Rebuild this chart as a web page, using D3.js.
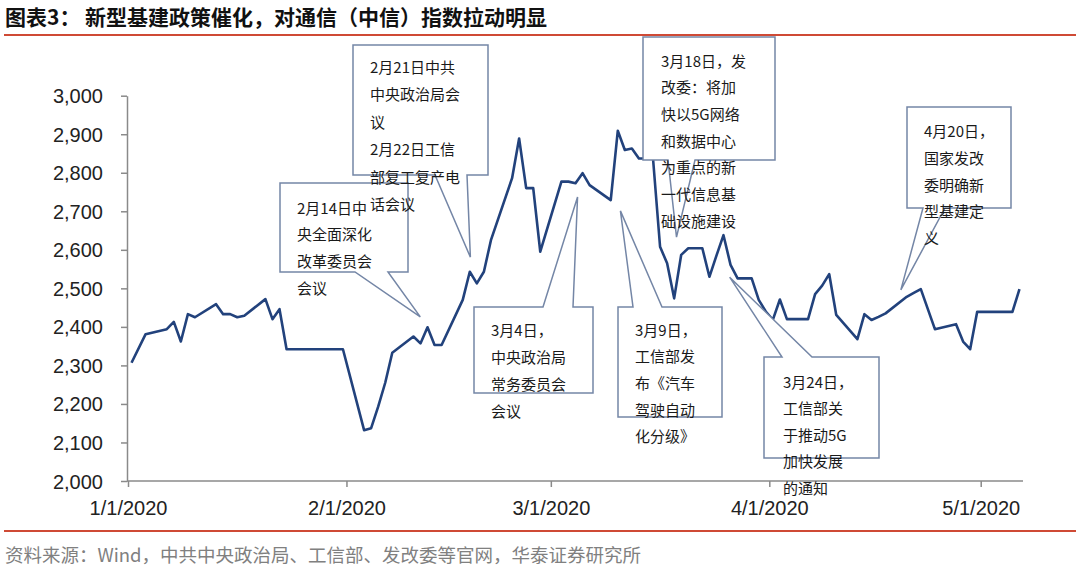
<!DOCTYPE html>
<html><head><meta charset="utf-8">
<script src="https://cdn.jsdelivr.net/npm/d3@7"></script>
<style>body{margin:0;background:#fff;} svg{display:block;}</style>
</head><body>
<svg id="c" width="1080" height="579"></svg>
<script>
// ---------- data ----------
const titleLead = "图表3：";
const titleMain = "新型基建政策催化，对通信（中信）指数拉动明显";
const sourceText = "资料来源：Wind，中共中央政治局、工信部、发改委等官网，华泰证券研究所";

const dates = ["2020-01-01","2020-01-03","2020-01-06","2020-01-07","2020-01-08","2020-01-09","2020-01-10",
"2020-01-13","2020-01-14","2020-01-15","2020-01-16","2020-01-17","2020-01-20","2020-01-21","2020-01-22","2020-01-23",
"2020-01-31","2020-02-03","2020-02-04","2020-02-05","2020-02-06","2020-02-07","2020-02-10","2020-02-11","2020-02-12",
"2020-02-13","2020-02-14","2020-02-17","2020-02-18","2020-02-19","2020-02-20","2020-02-21","2020-02-24","2020-02-25",
"2020-02-26","2020-02-27","2020-02-28","2020-03-02","2020-03-03","2020-03-04","2020-03-05","2020-03-06","2020-03-09",
"2020-03-10","2020-03-11","2020-03-12","2020-03-13","2020-03-15","2020-03-16","2020-03-17","2020-03-18","2020-03-19",
"2020-03-20","2020-03-22","2020-03-23","2020-03-24","2020-03-25","2020-03-26","2020-03-27","2020-03-29","2020-03-30",
"2020-03-31","2020-04-01","2020-04-02","2020-04-03","2020-04-06","2020-04-07","2020-04-08","2020-04-09","2020-04-10",
"2020-04-13","2020-04-14","2020-04-15","2020-04-16","2020-04-17","2020-04-20","2020-04-21","2020-04-22","2020-04-23",
"2020-04-24","2020-04-27","2020-04-28","2020-04-29","2020-04-30","2020-05-05","2020-05-06"];
const values = [2307,2381,2394,2413,2362,2433,2425,
2459,2433,2433,2425,2429,2472,2420,2446,2342,
2342,2132,2137,2193,2255,2333,2375,2357,2399,
2353,2353,2470,2543,2513,2543,2625,2786,2889,
2760,2760,2595,2777,2777,2773,2799,2768,2729,
2909,2859,2863,2837,2837,2608,2565,2474,2587,
2604,2604,2530,2585,2638,2561,2526,2526,2470,
2440,2418,2471,2420,2420,2485,2507,2537,2431,
2368,2433,2418,2426,2435,2478,2488,2498,2446,
2394,2407,2362,2342,2439,2439,2498];

const yTicks = [2000,2100,2200,2300,2400,2500,2600,2700,2800,2900,3000];
const xTickDates = ["2020-01-01","2020-02-01","2020-03-01","2020-04-01","2020-05-01"];
const xTickLabels = ["1/1/2020","2/1/2020","3/1/2020","4/1/2020","5/1/2020"];

const noteTexts = [
  ["2月14日中","央全面深化","改革委员会","会议"],
  ["2月21日中共","中央政治局会","议","2月22日工信","部复工复产电","话会议"],
  ["3月4日，","中央政治局","常务委员会","会议"],
  ["3月9日，","工信部发","布《汽车","驾驶自动","化分级》"],
  ["3月18日，发","改委：将加","快以5G网络","和数据中心","为重点的新","一代信息基","础设施建设"],
  ["3月24日，","工信部关","于推动5G","加快发展","的通知"],
  ["4月20日，","国家发改","委明确新","型基建定","义"]
];
// where each callout points (date, index value)
const noteTipDates = ["2020-02-11T11:30","2020-02-18T14:00","2020-03-04T19:00","2020-03-10T21:00",
                      "2020-03-18T20:00","2020-03-26T09:00","2020-04-19T16:00"];
const noteTipValues = [2426,2581,2737,2701,2633,2529,2496];

// ---------- layout ----------
const plot = {left:128, right:1023, top:95.7, bottom:481};
const noteBoxes = [
  {x0:280,y0:183,x1:408,y1:272,side:"bottom",b0:355,b1:388,tx:297,ty:208,dy:26.7},
  {x0:353,y0:45,x1:488,y1:175,side:"bottom",b0:435,b1:467,tx:370,ty:67,dy:27.5},
  {x0:474,y0:307,x1:593,y1:393,side:"top",b0:543,b1:573,tx:491,ty:330,dy:27},
  {x0:618,y0:307,x1:722,y1:417,side:"top",b0:633,b1:662,tx:635,ty:330,dy:26.7},
  {x0:643,y0:37,x1:775,y1:160,side:"bottom",b0:668,b1:695,tx:661,ty:61,dy:26.7},
  {x0:764,y0:357,x1:879,y1:458,side:"top",b0:782,b1:812,tx:783,ty:382,dy:26.5},
  {x0:907,y0:107,x1:1011,y1:208,side:"bottom",b0:923,b1:945,tx:924,ty:131.7,dy:26.7}
];
const cjk = "'Noto Sans CJK SC','Noto Sans',sans-serif";
const latin = "'Liberation Sans',Arial,sans-serif";

const svg = d3.select("#c");
const parse = d3.isoParse;

const x = d3.scaleTime().domain([parse("2020-01-01"), parse("2020-05-07")]).range([plot.left, plot.right]);
const y = d3.scaleLinear().domain([2000, 3000]).range([plot.bottom, plot.top]);
// Excel date axis: points sit in the middle of each day slot
const xc = d => x(d3.timeHour.offset(parse(d), 12));

// title
const t = svg.append("text").attr("y", 25).attr("font-family", cjk).attr("font-weight", "bold")
  .attr("font-size", 21).attr("fill", "#111");
t.append("tspan").attr("x", 5).text(titleLead);
t.append("tspan").attr("x", 85).text(titleMain);

// red rules
svg.append("line").attr("x1", 4).attr("x2", 1076).attr("y1", 35).attr("y2", 35)
  .attr("stroke", "#cf4a35").attr("stroke-width", 2);
svg.append("line").attr("x1", 4).attr("x2", 1076).attr("y1", 531).attr("y2", 531)
  .attr("stroke", "#cf4a35").attr("stroke-width", 2);

// source
svg.append("text").attr("x", 5).attr("y", 562).attr("font-family", cjk).attr("font-size", 18.5)
  .attr("fill", "#808080").text(sourceText);

// y axis
const yAxis = svg.append("g").attr("transform", `translate(${plot.left - 1},0)`)
  .call(d3.axisLeft(y).tickValues(yTicks).tickFormat(d3.format(",")).tickSize(6).tickSizeOuter(0));
yAxis.select(".domain").attr("stroke", "#8a8a8a").attr("stroke-width", 1.5);
yAxis.selectAll(".tick line").attr("stroke", "#8a8a8a").attr("stroke-width", 1.5);
yAxis.selectAll(".tick text").attr("font-family", latin).attr("font-size", 20).attr("fill", "#222")
  .attr("x", -24).attr("dy", "0.35em");

// x axis
const xAxis = svg.append("g").attr("transform", `translate(0,${plot.bottom})`)
  .call(d3.axisBottom(x).tickValues(xTickDates.map(parse))
    .tickFormat((d, i) => xTickLabels[i]).tickSize(6).tickSizeOuter(0));
xAxis.select(".domain").attr("stroke", "#8a8a8a").attr("stroke-width", 1.5)
  .attr("d", `M${plot.left - 1},0H${plot.right}`);
xAxis.selectAll(".tick line").attr("stroke", "#8a8a8a").attr("stroke-width", 1.5);
xAxis.selectAll(".tick text").attr("font-family", latin).attr("font-size", 20).attr("fill", "#222")
  .attr("y", 20).attr("dy", "0.71em");

// line
const series = dates.map((d, i) => ({d, v: values[i]}));
svg.append("path").datum(series)
  .attr("fill", "none").attr("stroke", "#22427c").attr("stroke-width", 2.6).attr("stroke-linejoin", "round")
  .attr("d", d3.line().x(p => xc(p.d)).y(p => y(p.v)));

// callouts
const notes = noteBoxes.map((b, i) => ({...b, lines: noteTexts[i],
  px: x(parse(noteTipDates[i])), py: y(noteTipValues[i])}));
const shape = n => {
  if (n.side === "bottom")
    return `M${n.x0},${n.y0}H${n.x1}V${n.y1}H${n.b1}L${n.px},${n.py}L${n.b0},${n.y1}H${n.x0}Z`;
  return `M${n.x0},${n.y0}H${n.b0}L${n.px},${n.py}L${n.b1},${n.y0}H${n.x1}V${n.y1}H${n.x0}Z`;
};
svg.append("g").selectAll("path").data(notes).join("path")
  .attr("d", shape).attr("fill", "#fff").attr("stroke", "#7486a6").attr("stroke-width", 1.5);
const tg = svg.append("g").attr("font-family", cjk).attr("font-size", 15).attr("fill", "#1a1a1a");
notes.forEach(n => {
  tg.append("g").selectAll("text").data(n.lines).join("text")
    .attr("x", n.tx).attr("y", (l, j) => n.ty + j * n.dy + 5.5).text(l => l);
});
</script>
</body></html>
